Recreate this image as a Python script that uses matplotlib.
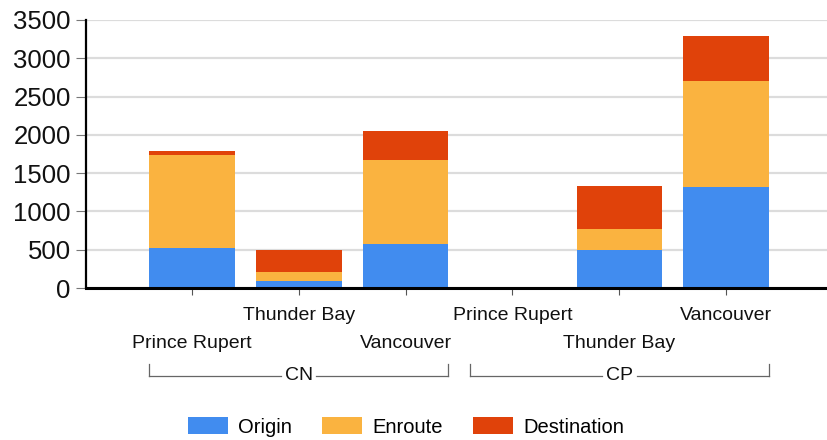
import matplotlib
matplotlib.use("Agg")
import matplotlib.pyplot as plt
from matplotlib.patches import Patch
from matplotlib.lines import Line2D
import numpy as np

plt.rcParams['font.family'] = ['Liberation Sans', 'DejaVu Sans']

groups = ["CN", "CP"]
ports = ["Prince Rupert", "Thunder Bay", "Vancouver"]
categories = [(g, p) for g in groups for p in ports]
origin = [525, 85, 575, 0, 495, 1315]
enroute = [1210, 127, 1100, 0, 280, 1390]
destination = [55, 288, 375, 0, 555, 585]
series_names = ["Origin", "Enroute", "Destination"]
colors = ["#418CEF", "#FAB340", "#E0420A"]
yticks = [0, 500, 1000, 1500, 2000, 2500, 3000, 3500]

W, H = 828, 440
fig = plt.figure(figsize=(W / 100, H / 100), dpi=100)
ax = fig.add_axes([86 / W, (H - 288) / H, (W - 86) / W, 268 / H])

x = np.arange(len(categories))
bw = 0.8
o = np.array(origin); e = np.array(enroute); d = np.array(destination)
ax.bar(x, o, bw, color=colors[0], zorder=3)
ax.bar(x, e, bw, bottom=o, color=colors[1], zorder=3)
ax.bar(x, d, bw, bottom=o + e, color=colors[2], zorder=3)

ax.set_xlim(-0.993, 5.955)
ax.set_ylim(0, 3500)
ax.set_yticks(yticks)
ax.set_yticklabels([str(v) for v in yticks], fontsize=18.5, color="#111111")
ax.yaxis.grid(True, color="#dcdcdc", lw=1.6, zorder=0)
ax.set_axisbelow(True)
for s in ["top", "right"]:
    ax.spines[s].set_visible(False)
ax.spines["left"].set_linewidth(1.6)
ax.spines["bottom"].set_linewidth(2.2)
ax.spines["left"].set_zorder(4)
ax.spines["bottom"].set_zorder(4)
ax.tick_params(axis="y", length=7, width=0.8, color="#777777", pad=4)
ax.set_xticks(x)
ax.set_xticklabels([""] * len(x))
ax.tick_params(axis="x", length=5, width=0.8, color="#555555")

# staggered category labels
for i, (g, p) in enumerate(categories):
    off = -56 if i % 2 == 0 else -28
    ax.annotate(p, xy=(i, 0), xycoords=("data", "axes fraction"),
                xytext=(0, off), textcoords="offset pixels",
                ha="center", va="center", fontsize=14, color="#111111",
                annotation_clip=False)

# group brackets
tr = ax.get_xaxis_transform()
yb = -88 / 268
yt = -76 / 268
n = len(ports)
for gi, g in enumerate(groups):
    x0 = gi * n - bw / 2
    x1 = gi * n + n - 1 + bw / 2
    xc = (x0 + x1) / 2
    gap = 0.165
    for seg in [(x0, xc - gap), (xc + gap, x1)]:
        ax.add_line(Line2D(seg, [yb, yb], transform=tr, color="#666666",
                           lw=0.9, clip_on=False))
    for xx in (x0, x1):
        ax.add_line(Line2D([xx, xx], [yt, yb], transform=tr, color="#666666",
                           lw=0.9, clip_on=False))
    ax.text(xc, yb, g, transform=tr, ha="center", va="center",
            fontsize=14, color="#111111")

handles = [Patch(facecolor=c, edgecolor="none") for c in colors]
fig.legend(handles, series_names, loc="center", ncol=3,
           bbox_to_anchor=(406 / W, (H - 427) / H), frameon=False,
           fontsize=14.5, handlelength=2.0, handleheight=0.9,
           handletextpad=0.5, columnspacing=1.5)

fig.savefig("out.png", dpi=100)
